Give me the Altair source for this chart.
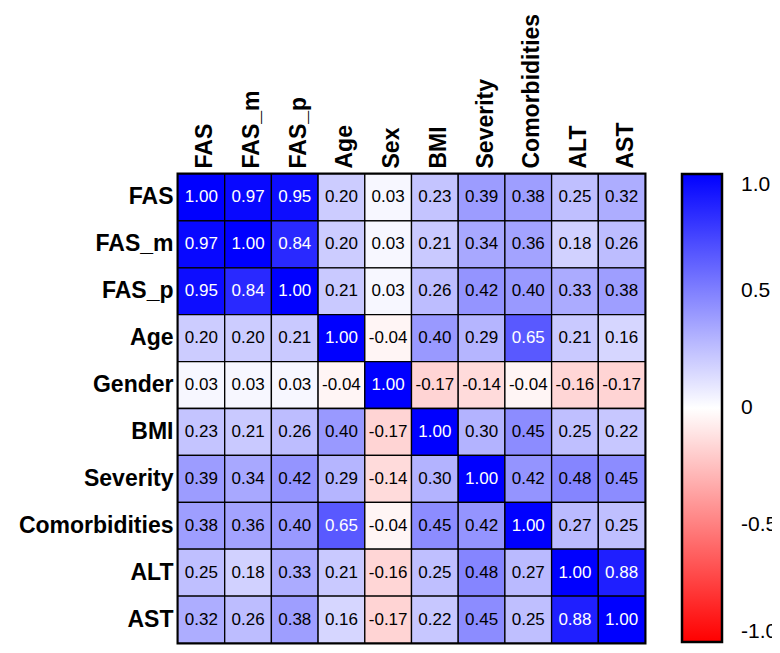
import altair as alt
import pandas as pd

rows = ["FAS", "FAS_m", "FAS_p", "Age", "Gender", "BMI", "Severity",
        "Comorbidities", "ALT", "AST"]
cols = ["FAS", "FAS_m", "FAS_p", "Age", "Sex", "BMI", "Severity",
        "Comorbidities", "ALT", "AST"]

r_FAS = [1.00, 0.97, 0.95, 0.20, 0.03, 0.23, 0.39, 0.38, 0.25, 0.32]
r_FAS_m = [0.97, 1.00, 0.84, 0.20, 0.03, 0.21, 0.34, 0.36, 0.18, 0.26]
r_FAS_p = [0.95, 0.84, 1.00, 0.21, 0.03, 0.26, 0.42, 0.40, 0.33, 0.38]
r_Age = [0.20, 0.20, 0.21, 1.00, -0.04, 0.40, 0.29, 0.65, 0.21, 0.16]
r_Gender = [0.03, 0.03, 0.03, -0.04, 1.00, -0.17, -0.14, -0.04, -0.16, -0.17]
r_BMI = [0.23, 0.21, 0.26, 0.40, -0.17, 1.00, 0.30, 0.45, 0.25, 0.22]
r_Severity = [0.39, 0.34, 0.42, 0.29, -0.14, 0.30, 1.00, 0.42, 0.48, 0.45]
r_Comorb = [0.38, 0.36, 0.40, 0.65, -0.04, 0.45, 0.42, 1.00, 0.27, 0.25]
r_ALT = [0.25, 0.18, 0.33, 0.21, -0.16, 0.25, 0.48, 0.27, 1.00, 0.88]
r_AST = [0.32, 0.26, 0.38, 0.16, -0.17, 0.22, 0.45, 0.25, 0.88, 1.00]

matrix = [r_FAS, r_FAS_m, r_FAS_p, r_Age, r_Gender, r_BMI, r_Severity,
          r_Comorb, r_ALT, r_AST]

legend_values = [-1.0, -0.5, 0.0, 0.5, 1.0]

records = []
for rname, rvals in zip(rows, matrix):
    for cname, v in zip(cols, rvals):
        records.append({"row": rname, "col": cname, "r": v})
df = pd.DataFrame(records)

FONT = "Liberation Sans"

base = alt.Chart(df).encode(
    x=alt.X("col:N", sort=cols, title=None,
            axis=alt.Axis(orient="top", labelAngle=-90, labelFontSize=23,
                          labelFontWeight="bold", labelColor="black",
                          labelFont=FONT, domain=False, ticks=False,
                          labelPadding=6, labelOffset=4)),
    y=alt.Y("row:N", sort=rows, title=None,
            axis=alt.Axis(labelFontSize=23, labelFontWeight="bold",
                          labelColor="black", labelFont=FONT, domain=False,
                          ticks=False, labelPadding=5)),
)

rects = base.mark_rect(stroke="black", strokeWidth=1.3).encode(
    color=alt.Color(
        "r:Q",
        scale=alt.Scale(domain=[-1, 0, 1], range=["#ff0000", "#ffffff", "#0000ff"],
                        interpolate="rgb"),
        legend=alt.Legend(title=None, gradientLength=468, gradientThickness=40,
                          gradientStrokeColor="black", gradientStrokeWidth=2.5,
                          labelFontSize=21, labelFont=FONT, labelColor="black",
                          labelOffset=19, offset=37, padding=0,
                          values=legend_values, labelBaseline="middle",
                          labelOverlap=False,
                          labelExpr="datum.value == 0 ? '0' : replace(format(datum.value, '.1f'), '\u2212', '-')"),
    )
)

texts = base.transform_calculate(
    label="replace(format(datum.r, '.2f'), '\u2212', '-')"
).mark_text(fontSize=17, font=FONT).encode(
    text="label:N",
    color=alt.condition("datum.r >= 0.6", alt.value("white"), alt.value("black")),
)

chart = (rects + texts).properties(
    width=467, height=469,
    autosize=alt.AutoSizeParams(type="none"),
    padding={"left": 170, "top": 166, "right": 127, "bottom": 2},
).configure_view(stroke="black", strokeWidth=3)

chart.save("out.html", embed_options={"renderer": "svg", "actions": False})
